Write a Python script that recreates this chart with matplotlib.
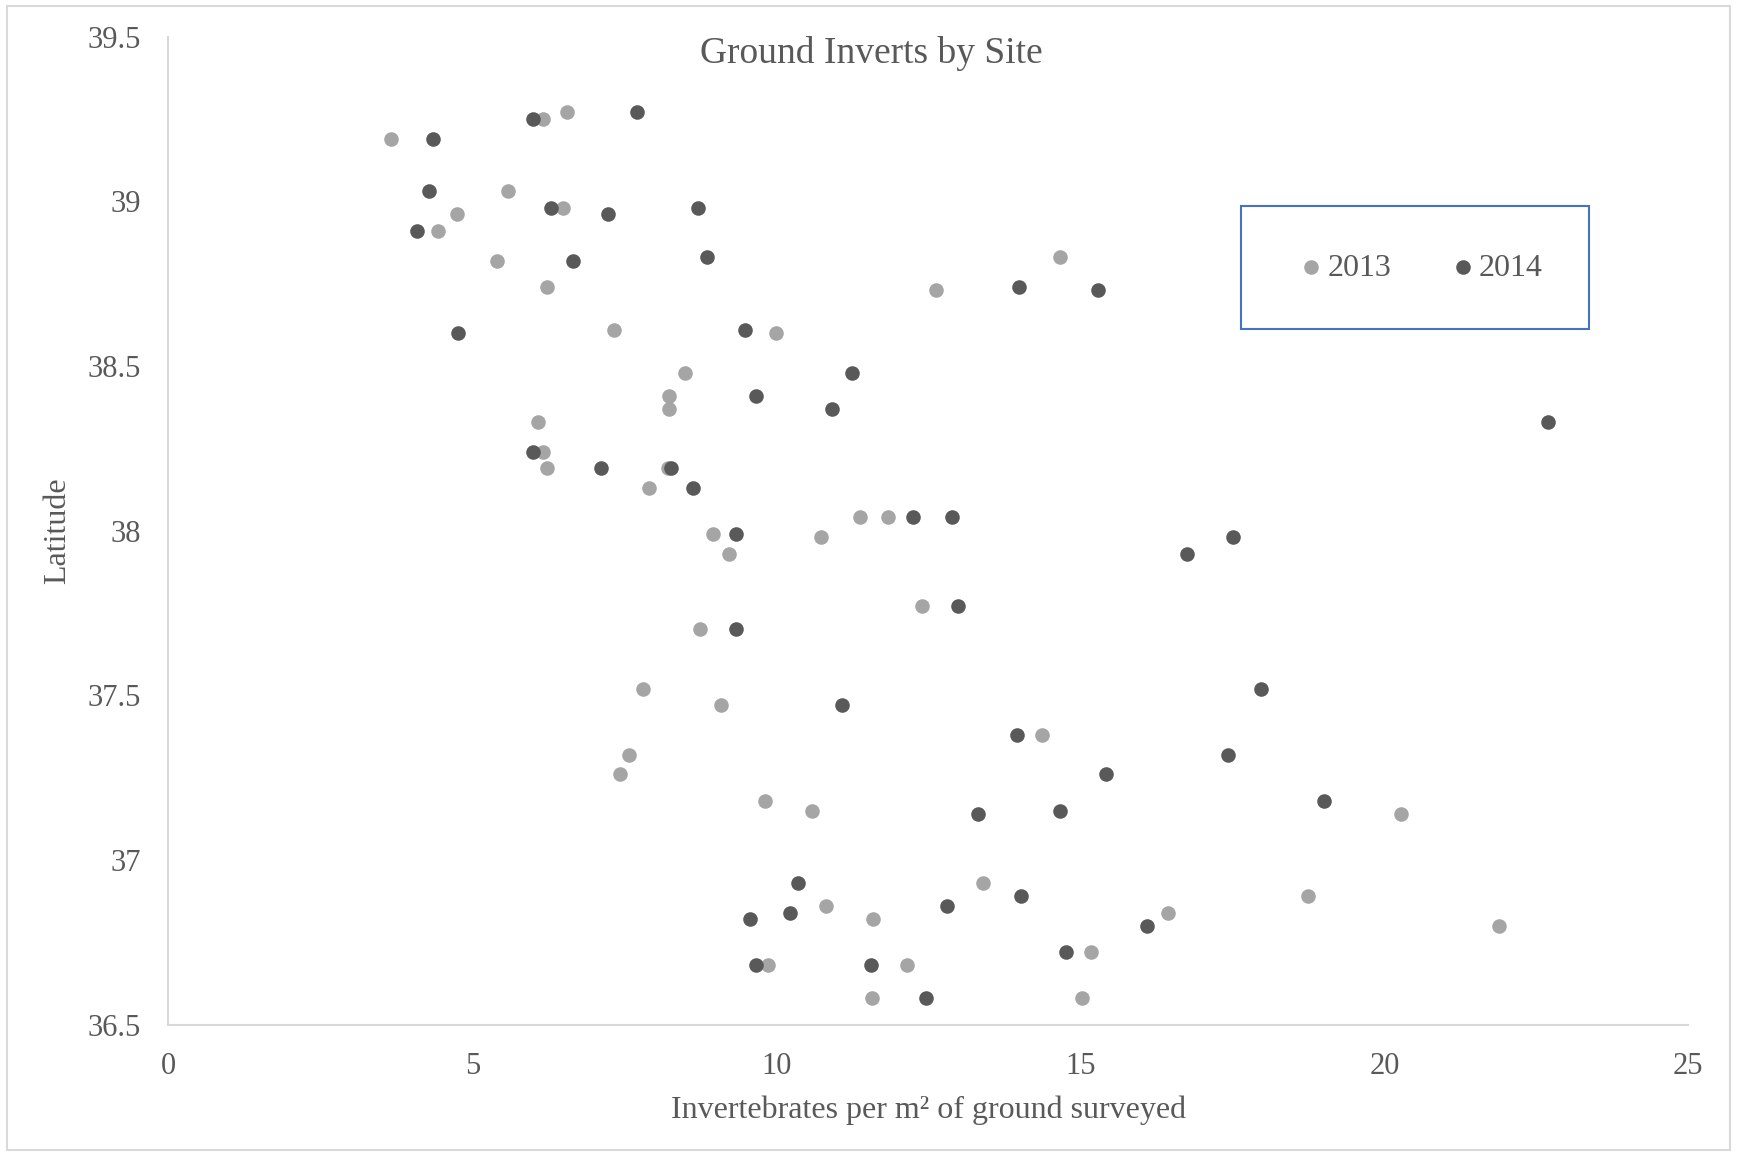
import matplotlib.pyplot as plt
from matplotlib.patches import Rectangle

# invertebrates per m2 / latitude
inv_2013 = [3.66, 6.16, 6.56, 5.58, 4.74, 4.43, 6.49, 5.41, 6.23, 7.33,
            12.63, 14.67, 10.00, 8.49, 8.24, 8.24, 6.07, 6.16, 6.23, 8.22,
            7.91, 8.96, 9.22, 10.73, 11.37, 11.83, 12.39, 8.75, 7.80, 9.09,
            7.58, 7.42, 9.82, 10.59, 14.36, 20.28, 13.39, 10.81, 11.59, 16.44,
            18.75, 21.88, 12.15, 9.86, 15.18, 11.57, 15.03]
lat_2013 = [39.19, 39.25, 39.27, 39.03, 38.96, 38.91, 38.98, 38.82, 38.74, 38.61,
            38.73, 38.83, 38.60, 38.48, 38.41, 38.37, 38.33, 38.24, 38.19, 38.19,
            38.13, 37.99, 37.93, 37.98, 38.04, 38.04, 37.77, 37.70, 37.52, 37.47,
            37.32, 37.26, 37.18, 37.15, 37.38, 37.14, 36.93, 36.86, 36.82, 36.84,
            36.89, 36.80, 36.68, 36.68, 36.72, 36.58, 36.58]

inv_2014 = [4.35, 6.00, 7.71, 4.28, 4.08, 6.30, 7.23, 8.71, 8.86, 6.65,
            4.76, 9.49, 13.99, 15.29, 11.24, 9.66, 10.91, 22.69, 6.00, 7.11,
            8.27, 8.62, 9.33, 12.24, 12.88, 16.76, 17.51, 12.99, 9.33, 17.97,
            11.08, 13.96, 17.42, 15.42, 19.01, 14.67, 13.32, 10.35, 14.03, 10.22,
            12.81, 9.57, 16.09, 14.76, 9.66, 11.55, 12.46]
lat_2014 = [39.19, 39.25, 39.27, 39.03, 38.91, 38.98, 38.96, 38.98, 38.83, 38.82,
            38.60, 38.61, 38.74, 38.73, 38.48, 38.41, 38.37, 38.33, 38.24, 38.19,
            38.19, 38.13, 37.99, 38.04, 38.04, 37.93, 37.98, 37.77, 37.70, 37.52,
            37.47, 37.38, 37.32, 37.26, 37.18, 37.15, 37.14, 36.93, 36.89, 36.84,
            36.86, 36.82, 36.80, 36.72, 36.68, 36.68, 36.58]

x_ticks = [0, 5, 10, 15, 20, 25]
y_ticks = [36.5, 37, 37.5, 38, 38.5, 39, 39.5]
y_tick_labels = ["36.5", "37", "37.5", "38", "38.5", "39", "39.5"]

TEXT = "#595959"
plt.rcParams['font.family'] = ['Liberation Serif', 'DejaVu Serif']

fig = plt.figure(figsize=(17.37, 11.55), dpi=100)
ax = fig.add_axes([0.097, 0.1128, 0.875, 0.8555])

ax.scatter(inv_2013, lat_2013, s=110, color="#A5A5A5", label="2013", zorder=3, linewidths=0)
ax.scatter(inv_2014, lat_2014, s=110, color="#595959", label="2014", zorder=3, linewidths=0)

ax.set_xlim(0, 25)
ax.set_ylim(36.5, 39.5)
ax.set_xticks(x_ticks)
ax.set_yticks(y_ticks)
ax.set_yticklabels(y_tick_labels)
ax.tick_params(length=0, pad=20, labelsize=22, labelcolor=TEXT)

for side in ["top", "right"]:
    ax.spines[side].set_visible(False)
for side in ["left", "bottom"]:
    ax.spines[side].set_color("#D9D9D9")
    ax.spines[side].set_linewidth(1.5)

ax.set_xlabel("Invertebrates per m\u00b2 of ground surveyed", fontsize=23, color=TEXT)
ax.xaxis.set_label_coords(0.5, -0.072)
ax.set_ylabel("Latitude", fontsize=23, color=TEXT)
ax.yaxis.set_label_coords(-0.0634, 0.5)

fig.text(0.5015, 0.954, "Ground Inverts by Site", ha="center", va="center", fontsize=27, color=TEXT)

# legend box drawn separately so its size matches the original
ax.add_patch(Rectangle((0.7055, 0.704), 0.229, 0.1246, transform=ax.transAxes,
                       fill=False, edgecolor="#4472C4", linewidth=1.5, zorder=4))
ax.legend(loc="center", bbox_to_anchor=(0.8255, 0.766), ncol=2, frameon=False,
          fontsize=23, labelcolor=TEXT, handlelength=0.5, handletextpad=0.25,
          columnspacing=2.0, markerscale=1.0)

fig.patches.append(Rectangle((0.004, 0.004), 0.992, 0.991, transform=fig.transFigure,
                             fill=False, edgecolor="#D9D9D9", linewidth=1.5))

plt.savefig("out.png", dpi=100)
